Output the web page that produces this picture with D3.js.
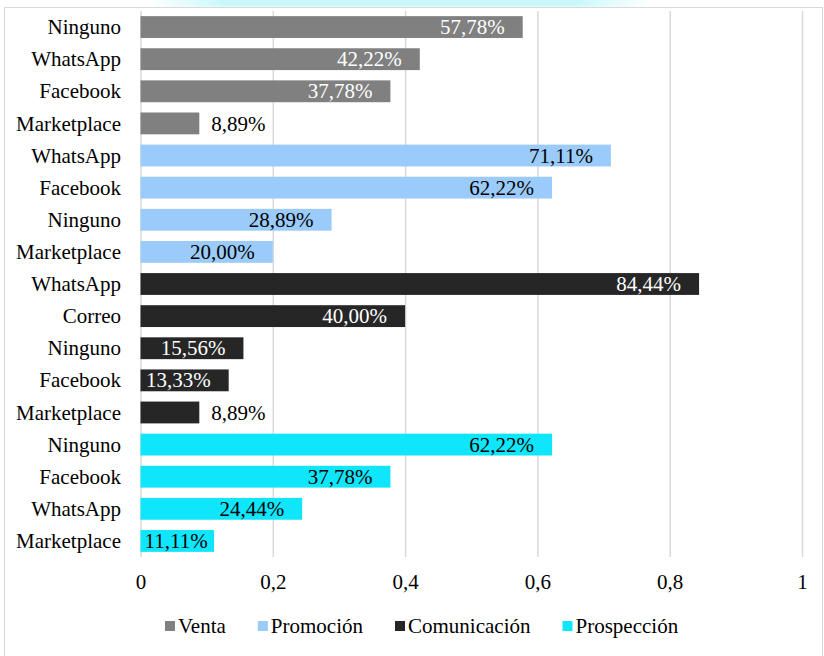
<!DOCTYPE html>
<html>
<head>
<meta charset="utf-8">
<script src="https://cdn.jsdelivr.net/npm/d3@7"></script>
<style>
  html, body { margin: 0; padding: 0; background: #fff; }
</style>
</head>
<body>
<svg id="chart"></svg>
<script>
// series, top to bottom as drawn
const seriesNames = ['Venta', 'Promoción', 'Comunicación', 'Prospección']
const seriesColors = ['#808080', '#9bcbfb', '#262626', '#10e6fb']
const labelColors = ['#ffffff', '#000000', '#ffffff', '#000000']

const ventaCats = ['Ninguno', 'WhatsApp', 'Facebook', 'Marketplace']
const ventaVals = [0.5778, 0.4222, 0.3778, 0.0889]

const promocionCats = ['WhatsApp', 'Facebook', 'Ninguno', 'Marketplace']
const promocionVals = [0.7111, 0.6222, 0.2889, 0.2000]

const comunicacionCats = ['WhatsApp', 'Correo', 'Ninguno', 'Facebook', 'Marketplace']
const comunicacionVals = [0.8444, 0.4000, 0.1556, 0.1333, 0.0889]

const prospeccionCats = ['Ninguno', 'Facebook', 'WhatsApp', 'Marketplace']
const prospeccionVals = [0.6222, 0.3778, 0.2444, 0.1111]

const xTicks = [0, 0.2, 0.4, 0.6, 0.8, 1]

// build rows for the band scale
let groups = [
  [ventaCats, ventaVals],
  [promocionCats, promocionVals],
  [comunicacionCats, comunicacionVals],
  [prospeccionCats, prospeccionVals]
]
let rows = []
groups.forEach((g, si) => {
  g[0].forEach((c, i) => {
    rows.push({ id: rows.length, cat: c, val: g[1][i], s: si })
  })
})

let width = 824
let height = 656
let fontSize = 21
let serif = "'Liberation Serif', Tinos, 'Times New Roman', 'DejaVu Serif', serif"

let svg = d3.select('#chart')
  .attr('width', width)
  .attr('height', height)
  .attr('font-family', serif)

// faint cyan strip at top edge
let defs = svg.append('defs')
let grad = defs.append('linearGradient').attr('id', 'topglow')
grad.append('stop').attr('offset', '0%').attr('stop-color', '#c8f8fc').attr('stop-opacity', 0)
grad.append('stop').attr('offset', '15%').attr('stop-color', '#c8f8fc').attr('stop-opacity', 1)
grad.append('stop').attr('offset', '85%').attr('stop-color', '#c8f8fc').attr('stop-opacity', 1)
grad.append('stop').attr('offset', '100%').attr('stop-color', '#c8f8fc').attr('stop-opacity', 0)
svg.append('rect')
  .attr('x', 150).attr('y', 0)
  .attr('width', 500).attr('height', 6.5)
  .attr('fill', 'url(#topglow)')

// chart frame
svg.append('rect')
  .attr('x', 4.5).attr('y', 7.5)
  .attr('width', 818).attr('height', 660)
  .attr('fill', 'none')
  .attr('stroke', '#d9d9d9')
  .attr('stroke-width', 1)

let x = d3.scaleLinear().domain([0, 1]).range([140.5, 802])
let y = d3.scaleBand()
  .domain(rows.map(d => d.id))
  .range([11, 557])
  .paddingInner(0.32)
  .paddingOuter(0.16)

// gridlines
let grid = svg.append('g')
  .attr('transform', 'translate(0,557)')
  .call(d3.axisBottom(x).tickValues(xTicks).tickSize(-546).tickFormat(''))
grid.select('.domain').remove()
grid.selectAll('line').attr('stroke', '#d9d9d9').attr('stroke-width', 1.5)

// tick labels
let fmt = v => String(v).replace('.', ',')
let xAxis = svg.append('g')
  .attr('transform', 'translate(0,571)')
  .call(d3.axisBottom(x).tickValues(xTicks).tickSize(0).tickFormat(fmt))
xAxis.attr('font-family', serif).attr('font-size', fontSize)
xAxis.select('.domain').remove()
xAxis.selectAll('text')
  .attr('fill', '#000')
  .attr('dy', '0.71em')

// bars
svg.append('g').selectAll('rect')
  .data(rows)
  .enter()
  .append('rect')
  .attr('x', x(0))
  .attr('y', d => y(d.id))
  .attr('width', d => x(d.val) - x(0))
  .attr('height', y.bandwidth())
  .attr('fill', d => seriesColors[d.s])

// category labels
svg.append('g').selectAll('text')
  .data(rows)
  .enter()
  .append('text')
  .attr('x', 121)
  .attr('y', d => y(d.id) + y.bandwidth() / 2)
  .attr('dy', '0.34em')
  .attr('text-anchor', 'end')
  .attr('font-size', fontSize)
  .attr('fill', '#000')
  .text(d => d.cat)

// value labels, inside end unless they do not fit
let pct = v => (v * 100).toFixed(2).replace('.', ',') + '%'
svg.append('g').selectAll('text')
  .data(rows)
  .enter()
  .append('text')
  .attr('y', d => y(d.id) + y.bandwidth() / 2)
  .attr('dy', '0.34em')
  .attr('font-size', fontSize)
  .text(d => pct(d.val))
  .each(function (d) {
    let w = this.getComputedTextLength()
    let x0 = x(0)
    let x1 = x(d.val)
    let el = d3.select(this)
    if (w + 8 > x1 - x0) {
      el.attr('x', x1 + 12).attr('fill', '#000')
    } else {
      el.attr('x', Math.max(x0 + 4, x1 - 18 - w)).attr('fill', labelColors[d.s])
    }
  })

// legend
let legend = svg.append('g').attr('transform', 'translate(165,626)')
let lx = 0
seriesNames.forEach((name, i) => {
  legend.append('rect')
    .attr('x', lx).attr('y', -5)
    .attr('width', 10).attr('height', 10)
    .attr('fill', seriesColors[i])
  let t = legend.append('text')
    .attr('x', lx + 13)
    .attr('dy', '0.34em')
    .attr('font-size', fontSize)
    .attr('fill', '#000')
    .text(name)
  lx += 13 + t.node().getComputedTextLength() + 32
})
</script>
</body>
</html>
